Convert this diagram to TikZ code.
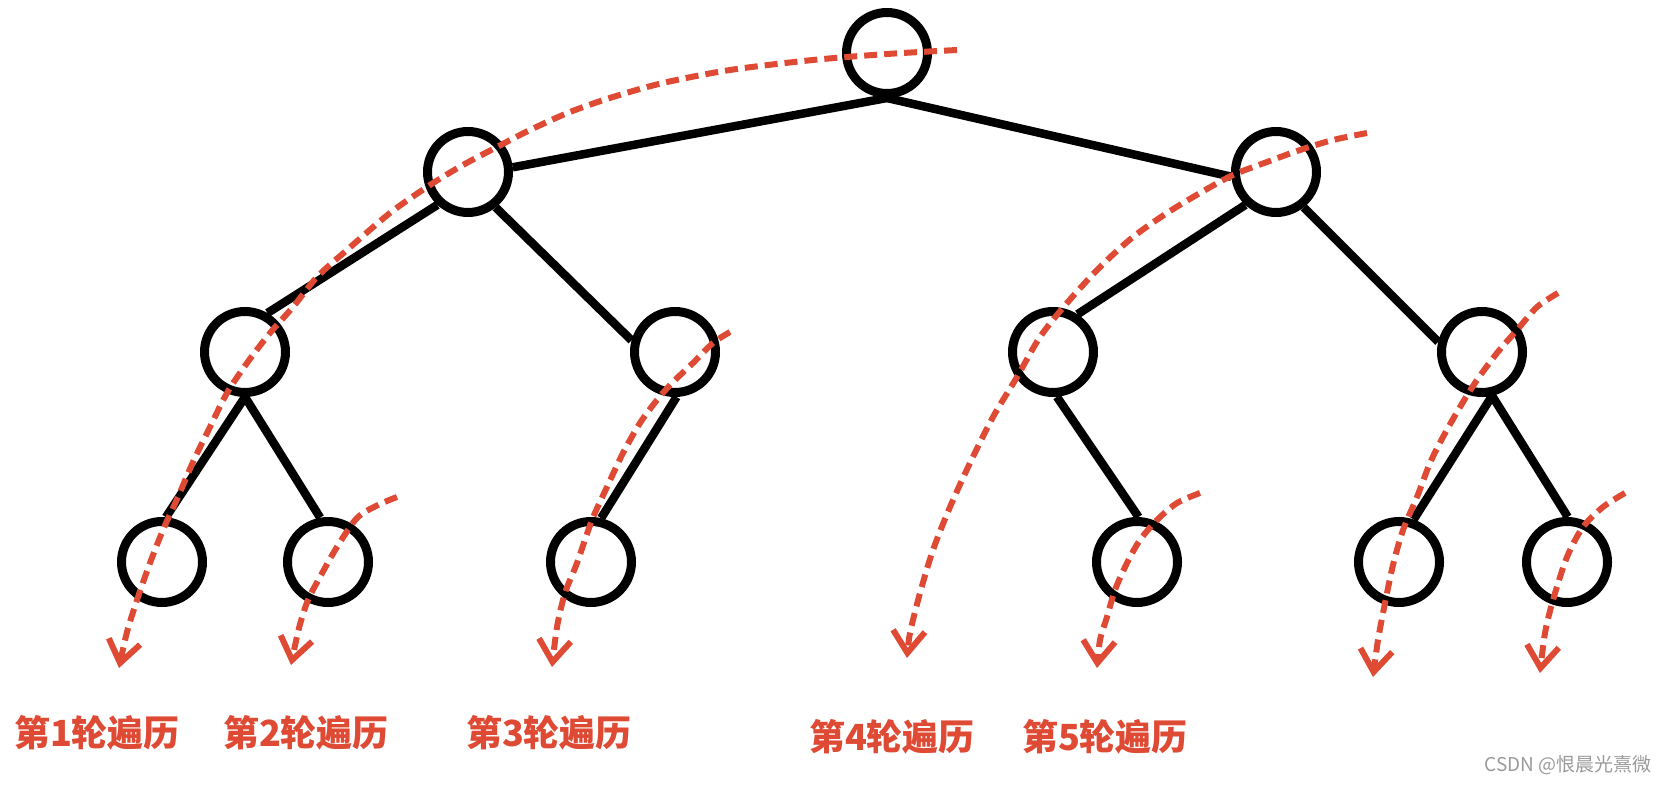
\documentclass[tikz,border=0pt]{standalone}
\usepackage{fontspec}
\newfontfamily\cjk{Noto Sans CJK SC}
\usetikzlibrary{arrows.meta}
\definecolor{trred}{HTML}{DE4A34}
\definecolor{wmgray}{HTML}{9A9A9A}
\begin{document}
\begin{tikzpicture}[x=1pt,y=-1pt,
  tn/.style={circle,draw=black,line width=9pt,minimum size=81pt,inner sep=0pt},
  te/.style={line width=8.5pt,draw=black},
  trav/.style={draw=trred,line width=6pt,dash pattern=on 13pt off 7pt,
    -{Straight Barb[length=22pt,width=32pt,line width=6pt]}},
  lab/.style={text=trred,inner sep=0pt,font=\cjk\bfseries\fontsize{36}{40}\selectfont},
  wm/.style={text=wmgray,inner sep=0pt,font=\cjk\fontsize{19}{22}\selectfont},
]
\useasboundingbox (0,0) rectangle (1670,786);

% tree nodes
\node[tn] (r) at (887,53) {};
\node[tn] (a) at (468,172) {};
\node[tn] (b) at (1276,172) {};
\node[tn] (c) at (245,352) {};
\node[tn] (d) at (675,352) {};
\node[tn] (e) at (1053,352) {};
\node[tn] (f) at (1482,352) {};
\node[tn] (g) at (162,562) {};
\node[tn] (h) at (328,562) {};
\node[tn] (i) at (591,562) {};
\node[tn] (j) at (1137,562) {};
\node[tn] (k) at (1399,562) {};
\node[tn] (l) at (1567,562) {};

% tree edges
\draw[te] (r.south) -- (a.6);
\draw[te] (r.south) -- (b.186);
\draw[te] (a.227) -- (c.60);
\draw[te] (a.-52) -- (d.165);
\draw[te] (b.227) -- (e.57);
\draw[te] (b.-52) -- (f.167);
\draw[te] (c.south) -- (g.85);
\draw[te] (c.south) -- (h.100);
\draw[te] (d.-88) -- (i.77);
\draw[te] (e.-85) -- (j.88);
\draw[te] (f.-77) -- (k.71);
\draw[te] (f.-77) -- (l.89);

% traversal curves
\draw[trav] plot[smooth] coordinates {(957,50) (887,54) (813,60) (730,70) (663,83) (613,97) (570,112) (530,130) (497,147) (463,165) (430,185) (390,213) (347,250) (317,277) (293,307) (270,333) (247,363) (227,393) (210,427) (193,462) (178,497) (163,530) (150,563) (138,597) (127,632) (119,668)};
\draw[trav] plot[smooth] coordinates {(397,497) (378,505) (357,518) (337,547) (320,577) (308,600) (299,628) (291,665)};
\draw[trav] plot[smooth] coordinates {(730,332) (713,343) (693,363) (673,382) (657,400) (640,423) (623,453) (607,487) (592,520) (577,563) (565,593) (557,627) (552,667)};
\draw[trav] plot[smooth] coordinates {(1367,133) (1333,140) (1300,150) (1267,162) (1233,175) (1200,193) (1167,213) (1133,237) (1100,267) (1067,303) (1040,337) (1017,377) (993,417) (970,463) (950,507) (933,550) (920,593) (910,633) (907,658)};
\draw[trav] plot[smooth] coordinates {(1200,493) (1177,503) (1157,520) (1140,540) (1127,563) (1115,590) (1107,617) (1100,640) (1097,668)};
\draw[trav] plot[smooth] coordinates {(1558,293) (1537,307) (1517,330) (1497,353) (1477,380) (1460,407) (1443,437) (1430,463) (1417,497) (1403,530) (1393,565) (1385,603) (1378,640) (1373,677)};
\draw[trav] plot[smooth] coordinates {(1625,493) (1603,507) (1583,527) (1567,557) (1553,600) (1545,633) (1540,673)};

% labels
\node[lab] (t1) at (97,733) {第1轮遍历};
\node[lab] (t2) at (306,733) {第2轮遍历};
\node[lab] (t3) at (549,733) {第3轮遍历};
\node[lab] (t4) at (892,737) {第4轮遍历};
\node[lab] (t5) at (1105,737) {第5轮遍历};
\node[wm] (w) at (1568,765) {CSDN @恨晨光熹微};
\end{tikzpicture}
\end{document}
